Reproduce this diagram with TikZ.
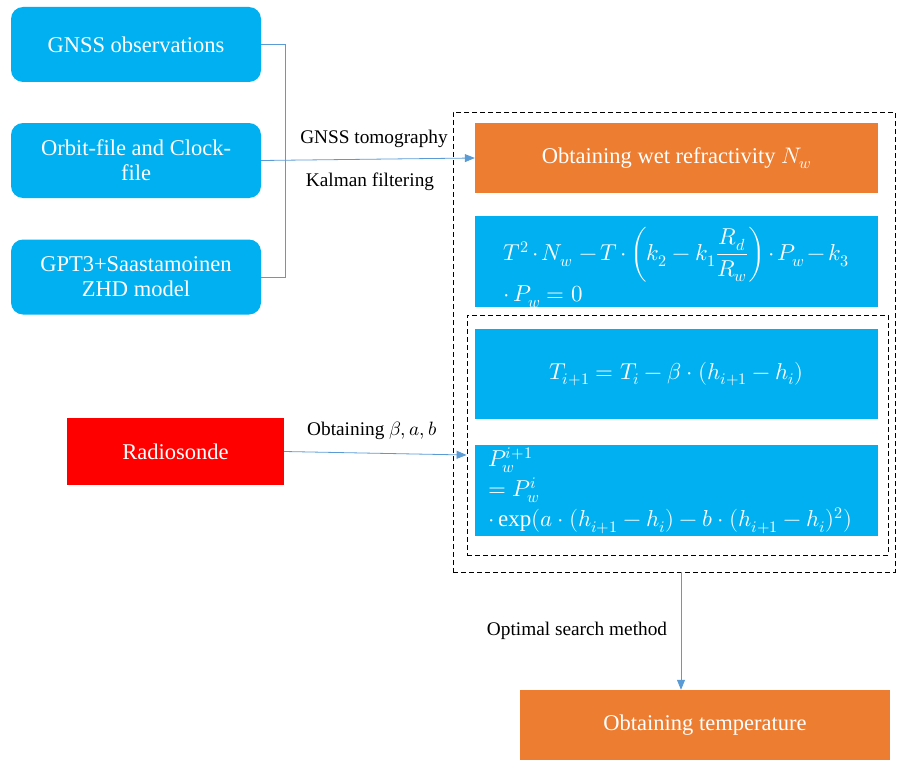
\documentclass[tikz,border=0pt]{standalone}
\usepackage{amsmath}
\usepackage{fontspec}
\usepackage{unicode-math}
\setmainfont{Liberation Serif}
\setmathfont{Latin Modern Math}
\usetikzlibrary{arrows.meta,calc}
\definecolor{cyanbox}{HTML}{00B0F0}
\definecolor{orangebox}{HTML}{ED7D31}
\definecolor{linec}{HTML}{5B9BD5}
\begin{document}
\begin{tikzpicture}[x=1pt,y=-1pt,
  bluebox/.style={fill=cyanbox,draw=none,rounded corners=12pt,text=white,minimum width=250pt,minimum height=75pt,align=center,font=\fontsize{22.5}{25}\selectfont,inner sep=2pt},
  eqbox/.style={fill=cyanbox,draw=none,text=white,minimum width=403pt,font=\fontsize{23}{27}\selectfont,inner sep=0pt},
  eqtext/.style={text=white,font=\fontsize{23}{27}\selectfont,inner sep=0pt},
  orbox/.style={fill=orangebox,draw=none,text=white,font=\fontsize{22.5}{25}\selectfont,inner sep=0pt},
  dbox/.style={draw=black,thick,dash pattern=on 5pt off 3pt,inner sep=0pt,fill=none},
  conn/.style={draw=linec,line width=0.8pt},
  arr/.style={conn,-{Triangle[length=10pt,width=8pt]}},
  lab/.style={font=\fontsize{19.3}{22}\selectfont,text=black}]
\useasboundingbox (0,0) rectangle (897,760);
% left boxes
\node[bluebox] (g1) at (136,44.5) {GNSS observations};
\node[bluebox] (g2) at (136,160.5) {Orbit-file and Clock-\\file};
\node[bluebox] (g3) at (136,277) {GPT3+Saastamoinen\\ZHD model};
\node[fill=red,text=white,minimum width=217pt,minimum height=67pt,inner sep=0pt,font=\fontsize{22.5}{25}\selectfont] (rs) at (175.5,451.5) {Radiosonde};
% dashed boxes
\node[dbox,minimum width=442pt,minimum height=460pt] (outer) at (674,342) {};
\node[dbox,minimum width=421pt,minimum height=240pt] (inner) at (677.5,435) {};
% right boxes
\node[orbox,minimum width=403pt,minimum height=70pt] (nw) at (676.5,158) {Obtaining wet refractivity $N_w$};
\node[eqbox,minimum height=91pt] (e1) at (676.5,261.5) {};
\node[eqtext] (e1t) at ($(e1.center)+(0,6)$) {\begin{minipage}{346pt}$T^2\cdot N_w\,-T\cdot\left(k_2-k_1\dfrac{R_d}{R_w}\right)\cdot P_w-k_3$\\[3pt]$\cdot\, P_w=0$\end{minipage}};
\node[eqbox,minimum height=90pt] (e2) at (676.5,374) {$T_{i+1}=T_i-\beta\cdot(h_{i+1}-h_i)$};
\node[eqbox,minimum height=91pt] (e3) at (676.5,490.5) {\begin{minipage}{377pt}\baselineskip=30pt$P_w^{i+1}$\\$=P_w^{i}$\\$\cdot\exp(a\cdot(h_{i+1}-h_i)-b\cdot(h_{i+1}-h_i)^2)$\end{minipage}};
\node[orbox,minimum width=370pt,minimum height=70pt] (temp) at (705,725) {Obtaining temperature};
% connectors
\coordinate (bx) at (285,0);
\coordinate (vx) at (681,0);
\draw[conn] (g1.east) -- (g1.east -| bx) -- (g3.east -| bx) -- (g3.east);
\draw[arr] (g2.east) -- (nw.west);
\draw[arr] (rs.east) -- ($(inner.west)+(0,20)$);
\draw[arr] (outer.south -| vx) -- (temp.north -| vx);
% labels
\node[lab] at (374,139) {GNSS tomography};
\node[lab] at (370,182) {Kalman filtering};
\node[lab] at (372,431) {Obtaining $\beta, a, b$};
\node[lab] at (577,631) {Optimal search method};
\end{tikzpicture}
\end{document}
